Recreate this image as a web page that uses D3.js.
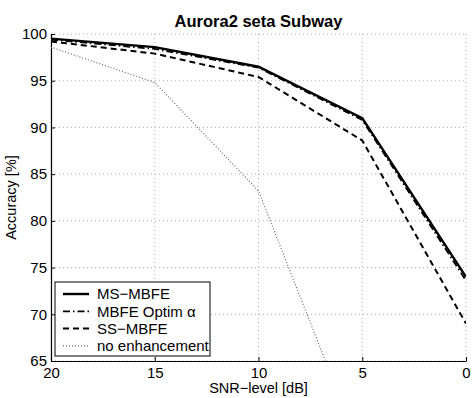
<!DOCTYPE html>
<html>
<head>
<meta charset="utf-8">
<script src="https://cdn.jsdelivr.net/npm/d3@7"></script>
<style>
  body { margin: 0; background: #fff; }
  svg { font-family: "Liberation Sans", Arial, sans-serif; }
</style>
</head>
<body>
<svg id="chart" width="474" height="398"></svg>
<script>
const snrLevels = [20, 15, 10, 5, 0];
const msMbfe = [99.5, 98.6, 96.5, 91.0, 74.0];
const mbfeOptim = [99.4, 98.4, 96.4, 90.8, 73.6];
const ssMbfe = [99.2, 97.9, 95.4, 88.6, 69.0];
const noEnhancement = [98.6, 94.8, 83.2, 55.0, 30.0];
const xTicks = [20, 15, 10, 5, 0];
const yTicks = [65, 70, 75, 80, 85, 90, 95, 100];

const series = [
  { name: 'MS\u2212MBFE', values: msMbfe, dash: null, width: 2.4 },
  { name: 'MBFE Optim \u03b1', values: mbfeOptim, dash: '7,3,1.5,3', width: 1.8 },
  { name: 'SS\u2212MBFE', values: ssMbfe, dash: '6,4', width: 2 },
  { name: 'no enhancement', values: noEnhancement, dash: '1,2', width: 1.2, color: '#666' }
];

const svg = d3.select('#chart');
const margin = { top: 34, right: 8, bottom: 37, left: 51 };
const width = 474 - margin.left - margin.right;
const height = 398 - margin.top - margin.bottom;

const x = d3.scaleLinear().domain([20, 0]).range([0, width]);
const y = d3.scaleLinear().domain([65, 100]).range([height, 0]);

const g = svg.append('g').attr('transform', `translate(${margin.left},${margin.top})`);

svg.append('defs').append('clipPath').attr('id', 'plot-clip')
  .append('rect').attr('width', width).attr('height', height);

// grid
g.append('g').selectAll('line').data(yTicks).enter().append('line')
  .attr('x1', 0).attr('x2', width)
  .attr('y1', d => y(d)).attr('y2', d => y(d))
  .attr('stroke', '#999').attr('stroke-width', 0.8).attr('stroke-dasharray', '1,3');
g.append('g').selectAll('line').data(xTicks).enter().append('line')
  .attr('x1', d => x(d)).attr('x2', d => x(d))
  .attr('y1', 0).attr('y2', height)
  .attr('stroke', '#999').attr('stroke-width', 0.8).attr('stroke-dasharray', '1,3');

// axes
const xAxis = g.append('g').attr('transform', `translate(0,${height})`)
  .call(d3.axisBottom(x).tickValues(xTicks).tickSizeInner(-4).tickSizeOuter(0).tickPadding(6));
const yAxis = g.append('g')
  .call(d3.axisLeft(y).tickValues(yTicks).tickSizeInner(-4).tickSizeOuter(0).tickPadding(4));
[xAxis, yAxis].forEach(a => {
  a.select('.domain').attr('stroke', '#000').attr('stroke-width', 1.2);
  a.selectAll('text').attr('font-size', 15).attr('fill', '#000')
    .attr('font-family', '"Liberation Sans", Arial, sans-serif');
});
xAxis.selectAll('text').attr('dy', '0.71em');

// lines
const line = d3.line().x((d, i) => x(snrLevels[i])).y(d => y(d));
const lines = g.append('g').attr('clip-path', 'url(#plot-clip)');
series.slice().reverse().forEach(s => {
  lines.append('path')
    .datum(s.values)
    .attr('d', line)
    .attr('fill', 'none')
    .attr('stroke', s.color || '#000')
    .attr('stroke-width', s.width)
    .attr('stroke-dasharray', s.dash);
});

// title and labels
svg.append('text').attr('x', margin.left + width / 2).attr('y', 27)
  .attr('text-anchor', 'middle').attr('font-size', 16.5).attr('font-weight', 'bold')
  .text('Aurora2 seta Subway');
svg.append('text').attr('x', margin.left + width / 2).attr('y', 393)
  .attr('text-anchor', 'middle').attr('font-size', 14.5)
  .text('SNR\u2212level [dB]');
svg.append('text')
  .attr('transform', `translate(16,${margin.top + height / 2}) rotate(-90)`)
  .attr('text-anchor', 'middle').attr('font-size', 14.5)
  .text('Accuracy [%]');

// legend
const legend = g.append('g').attr('transform', 'translate(4,248)');
legend.append('rect').attr('width', 155).attr('height', 74)
  .attr('fill', '#fff').attr('stroke', '#000').attr('stroke-width', 1);
series.forEach((s, i) => {
  const ly = 12 + i * 17.3;
  legend.append('line').attr('x1', 8).attr('x2', 34).attr('y1', ly).attr('y2', ly)
    .attr('stroke', s.color || '#000').attr('stroke-width', s.width)
    .attr('stroke-dasharray', s.dash);
  legend.append('text').attr('x', 42).attr('y', ly).attr('dy', '0.36em')
    .attr('font-size', 15).text(s.name);
});
</script>
</body>
</html>
